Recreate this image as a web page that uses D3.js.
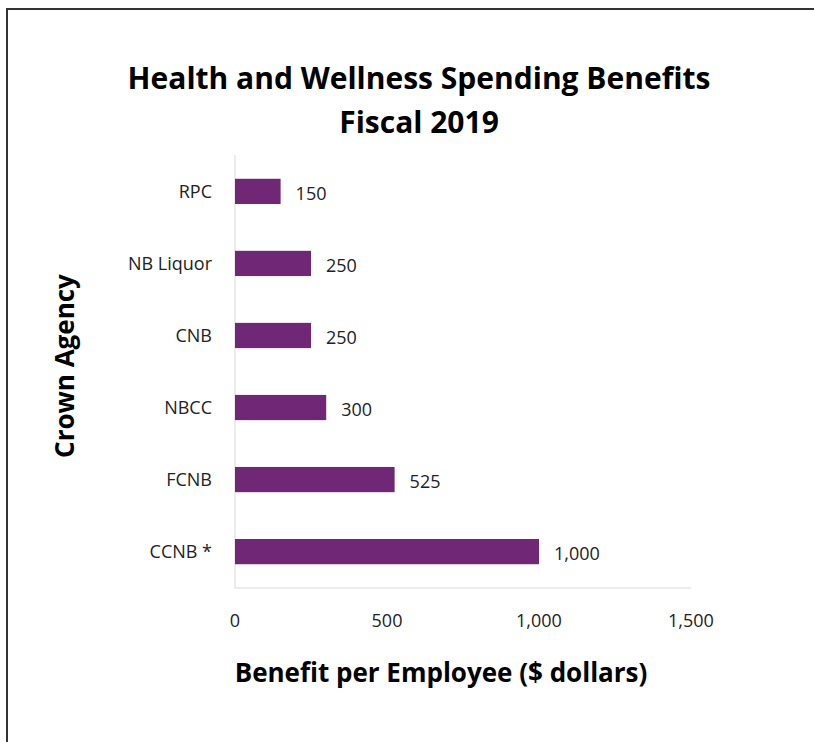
<!DOCTYPE html>
<html>
<head>
<meta charset="utf-8">
<script src="https://cdn.jsdelivr.net/npm/d3@7"></script>
<style>
  body { margin: 0; background: #fff; }
  text { font-family: "Open Sans", "Noto Sans", sans-serif; }
</style>
</head>
<body>
<div id="chart-area"></div>
<script>

let width = 814,
    height = 742;

// data
let agencies = ["RPC", "NB Liquor", "CNB", "NBCC", "FCNB", "CCNB *"];
let benefits = [150, 250, 250, 300, 525, 1000];
let xTicks = [0, 500, 1000, 1500];

let svg = d3.select("#chart-area").append("svg")
    .attr("width", width)
    .attr("height", height);

// frame (only top + left show in the picture)
svg.append("line").attr("x1", 6).attr("x2", width).attr("y1", 9).attr("y2", 9)
  .attr("stroke", "#333").attr("stroke-width", 2);
svg.append("line").attr("x1", 7).attr("x2", 7).attr("y1", 9).attr("y2", height)
  .attr("stroke", "#333").attr("stroke-width", 2);

let x = d3.scaleLinear().domain([0, 1500]).range([235, 691]);
let y = d3.scaleBand().domain(agencies).range([155, 588]).paddingInner(0.65).paddingOuter(0.33);

let fmt = d3.format(",");

// axis lines
svg.append("line").attr("x1", x(0)).attr("x2", x(0)).attr("y1", 155).attr("y2", 588)
  .attr("stroke", "#d9d9d9");
svg.append("line").attr("x1", x(0)).attr("x2", x(1500)).attr("y1", 588).attr("y2", 588)
  .attr("stroke", "#d9d9d9");

// bars
svg.selectAll(".bar")
  .data(benefits)
  .enter().append("rect")
  .attr("class", "bar")
  .attr("x", x(0))
  .attr("y", (d, i) => y(agencies[i]))
  .attr("width", d => x(d) - x(0))
  .attr("height", y.bandwidth())
  .attr("fill", "#702876");

// value labels
svg.selectAll(".val")
  .data(benefits)
  .enter().append("text")
  .attr("class", "val")
  .attr("x", d => x(d) + 15)
  .attr("y", (d, i) => y(agencies[i]) + y.bandwidth() / 2 + 2)
  .attr("dy", "0.35em")
  .attr("font-size", 18)
  .attr("fill", "#222")
  .text(d => fmt(d));

// category labels
svg.selectAll(".cat")
  .data(agencies)
  .enter().append("text")
  .attr("class", "cat")
  .attr("x", 212)
  .attr("y", d => y(d) + y.bandwidth() / 2)
  .attr("dy", "0.35em")
  .attr("text-anchor", "end")
  .attr("font-size", 18)
  .attr("fill", "#222")
  .text(d => d);

// x tick labels
svg.selectAll(".tick")
  .data(xTicks)
  .enter().append("text")
  .attr("class", "tick")
  .attr("x", d => x(d))
  .attr("y", 621)
  .attr("dy", "0.35em")
  .attr("text-anchor", "middle")
  .attr("font-size", 18)
  .attr("fill", "#222")
  .text(d => fmt(d));

// titles
svg.append("text")
  .attr("x", 419).attr("y", 89)
  .attr("text-anchor", "middle")
  .attr("font-size", 30).attr("font-weight", "bold")
  .text("Health and Wellness Spending Benefits");
svg.append("text")
  .attr("x", 419).attr("y", 133)
  .attr("text-anchor", "middle")
  .attr("font-size", 30).attr("font-weight", "bold")
  .text("Fiscal 2019");

svg.append("text")
  .attr("x", 441).attr("y", 682)
  .attr("text-anchor", "middle")
  .attr("font-size", 26).attr("font-weight", "bold")
  .text("Benefit per Employee ($ dollars)");

svg.append("text")
  .attr("transform", "translate(74,366) rotate(-90)")
  .attr("text-anchor", "middle")
  .attr("font-size", 26).attr("font-weight", "bold")
  .text("Crown Agency");

</script>
</body>
</html>
